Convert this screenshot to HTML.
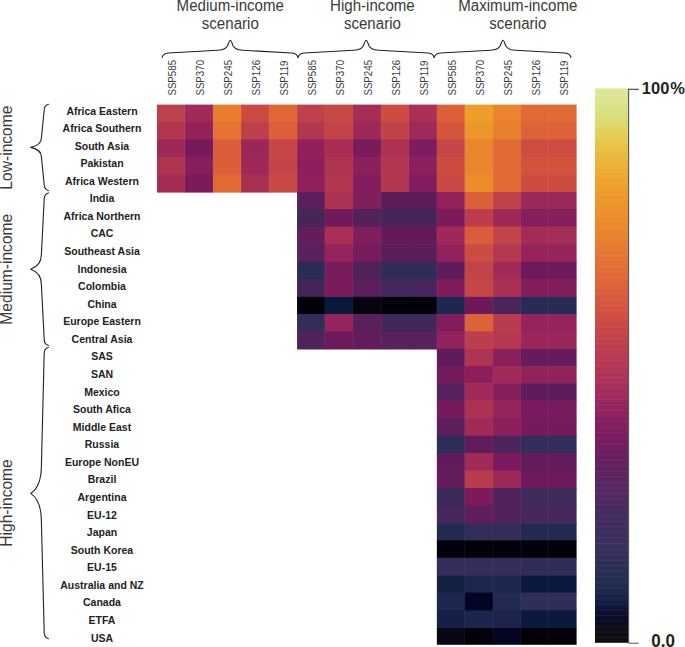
<!DOCTYPE html>
<html><head><meta charset="utf-8"><style>
html,body{margin:0;padding:0;background:#fff;}
svg{display:block;}
text{font-family:"Liberation Sans",sans-serif;}
</style></head><body>
<svg width="685" height="647" viewBox="0 0 685 647">
<defs><linearGradient id="cb" x1="0" y1="0" x2="0" y2="1">
<stop offset="0.0000" stop-color="#E0E69B"/>
<stop offset="0.0209" stop-color="#DEE491"/>
<stop offset="0.0354" stop-color="#D8E184"/>
<stop offset="0.0498" stop-color="#D7DE7C"/>
<stop offset="0.0660" stop-color="#DED769"/>
<stop offset="0.0841" stop-color="#E4CD55"/>
<stop offset="0.1021" stop-color="#E7C346"/>
<stop offset="0.1291" stop-color="#EBB63A"/>
<stop offset="0.1652" stop-color="#EEA530"/>
<stop offset="0.2013" stop-color="#EE962A"/>
<stop offset="0.2374" stop-color="#EC8C2A"/>
<stop offset="0.2734" stop-color="#E8802E"/>
<stop offset="0.2915" stop-color="#E67832"/>
<stop offset="0.3276" stop-color="#E16C37"/>
<stop offset="0.3636" stop-color="#DA5F3C"/>
<stop offset="0.3997" stop-color="#D25241"/>
<stop offset="0.4358" stop-color="#C84646"/>
<stop offset="0.4628" stop-color="#BE3E4E"/>
<stop offset="0.4899" stop-color="#B63854"/>
<stop offset="0.5260" stop-color="#AC325A"/>
<stop offset="0.5620" stop-color="#9B285F"/>
<stop offset="0.5981" stop-color="#871E5F"/>
<stop offset="0.6342" stop-color="#761C5F"/>
<stop offset="0.6703" stop-color="#641E5F"/>
<stop offset="0.6883" stop-color="#5F225F"/>
<stop offset="0.7244" stop-color="#552862"/>
<stop offset="0.7605" stop-color="#462A5F"/>
<stop offset="0.7965" stop-color="#3E2D5F"/>
<stop offset="0.8326" stop-color="#37305C"/>
<stop offset="0.8687" stop-color="#282D55"/>
<stop offset="0.8867" stop-color="#232D50"/>
<stop offset="0.9048" stop-color="#1C284B"/>
<stop offset="0.9228" stop-color="#141E46"/>
<stop offset="0.9408" stop-color="#0C1237"/>
<stop offset="0.9589" stop-color="#080A23"/>
<stop offset="0.9769" stop-color="#0F0F14"/>
<stop offset="1.0000" stop-color="#0C0C0E"/>
</linearGradient></defs>
<rect width="685" height="647" fill="#fff"/>
<g>
<rect x="157.00" y="104.60" width="28.60" height="17.90" fill="#BE424B"/>
<rect x="185.00" y="104.60" width="28.70" height="17.90" fill="#A02A58"/>
<rect x="213.10" y="104.60" width="28.50" height="17.90" fill="#E87D30"/>
<rect x="241.00" y="104.60" width="28.65" height="17.90" fill="#CC4A42"/>
<rect x="269.05" y="104.60" width="28.60" height="17.90" fill="#E06837"/>
<rect x="297.05" y="104.60" width="28.35" height="17.90" fill="#BE414C"/>
<rect x="324.80" y="104.60" width="28.65" height="17.90" fill="#C84844"/>
<rect x="352.85" y="104.60" width="28.75" height="17.90" fill="#A82D55"/>
<rect x="381.00" y="104.60" width="28.50" height="17.90" fill="#CD4B41"/>
<rect x="408.90" y="104.60" width="28.55" height="17.90" fill="#AA3055"/>
<rect x="436.85" y="104.60" width="28.45" height="17.90" fill="#DC5F3A"/>
<rect x="464.70" y="104.60" width="28.86" height="17.90" fill="#ED9E28"/>
<rect x="492.96" y="104.60" width="28.39" height="17.90" fill="#EA842D"/>
<rect x="520.75" y="104.60" width="27.85" height="17.90" fill="#E16937"/>
<rect x="548.00" y="104.60" width="28.60" height="17.90" fill="#E16B34"/>
<rect x="157.00" y="121.90" width="28.60" height="18.10" fill="#B2374E"/>
<rect x="185.00" y="121.90" width="28.70" height="18.10" fill="#94225A"/>
<rect x="213.10" y="121.90" width="28.50" height="18.10" fill="#E67332"/>
<rect x="241.00" y="121.90" width="28.65" height="18.10" fill="#BE404A"/>
<rect x="269.05" y="121.90" width="28.60" height="18.10" fill="#DC5F3A"/>
<rect x="297.05" y="121.90" width="28.35" height="18.10" fill="#B23750"/>
<rect x="324.80" y="121.90" width="28.65" height="18.10" fill="#C34448"/>
<rect x="352.85" y="121.90" width="28.75" height="18.10" fill="#9E285A"/>
<rect x="381.00" y="121.90" width="28.50" height="18.10" fill="#C0424A"/>
<rect x="408.90" y="121.90" width="28.55" height="18.10" fill="#9E2A5A"/>
<rect x="436.85" y="121.90" width="28.45" height="18.10" fill="#D4553C"/>
<rect x="464.70" y="121.90" width="28.86" height="18.10" fill="#ED9628"/>
<rect x="492.96" y="121.90" width="28.39" height="18.10" fill="#E8802E"/>
<rect x="520.75" y="121.90" width="27.85" height="18.10" fill="#DC6238"/>
<rect x="548.00" y="121.90" width="28.60" height="18.10" fill="#DE6238"/>
<rect x="157.00" y="139.40" width="28.60" height="18.10" fill="#9E2858"/>
<rect x="185.00" y="139.40" width="28.70" height="18.10" fill="#761A5C"/>
<rect x="213.10" y="139.40" width="28.50" height="18.10" fill="#DA5E3A"/>
<rect x="241.00" y="139.40" width="28.65" height="18.10" fill="#9B265A"/>
<rect x="269.05" y="139.40" width="28.60" height="18.10" fill="#C64646"/>
<rect x="297.05" y="139.40" width="28.35" height="18.10" fill="#91205C"/>
<rect x="324.80" y="139.40" width="28.65" height="18.10" fill="#AA2E54"/>
<rect x="352.85" y="139.40" width="28.75" height="18.10" fill="#7A1C5C"/>
<rect x="381.00" y="139.40" width="28.50" height="18.10" fill="#AF3252"/>
<rect x="408.90" y="139.40" width="28.55" height="18.10" fill="#7D1C5F"/>
<rect x="436.85" y="139.40" width="28.45" height="18.10" fill="#C44648"/>
<rect x="464.70" y="139.40" width="28.86" height="18.10" fill="#EA842D"/>
<rect x="492.96" y="139.40" width="28.39" height="18.10" fill="#E16B34"/>
<rect x="520.75" y="139.40" width="27.85" height="18.10" fill="#CE4C40"/>
<rect x="548.00" y="139.40" width="28.60" height="18.10" fill="#CE4C40"/>
<rect x="157.00" y="156.90" width="28.60" height="18.20" fill="#AF3450"/>
<rect x="185.00" y="156.90" width="28.70" height="18.20" fill="#871E5C"/>
<rect x="213.10" y="156.90" width="28.50" height="18.20" fill="#DA5E38"/>
<rect x="241.00" y="156.90" width="28.65" height="18.20" fill="#A02858"/>
<rect x="269.05" y="156.90" width="28.60" height="18.20" fill="#C34446"/>
<rect x="297.05" y="156.90" width="28.35" height="18.20" fill="#8E1E5C"/>
<rect x="324.80" y="156.90" width="28.65" height="18.20" fill="#AF3450"/>
<rect x="352.85" y="156.90" width="28.75" height="18.20" fill="#8A205C"/>
<rect x="381.00" y="156.90" width="28.50" height="18.20" fill="#B23650"/>
<rect x="408.90" y="156.90" width="28.55" height="18.20" fill="#8C205F"/>
<rect x="436.85" y="156.90" width="28.45" height="18.20" fill="#CD4C41"/>
<rect x="464.70" y="156.90" width="28.86" height="18.20" fill="#EA842D"/>
<rect x="492.96" y="156.90" width="28.39" height="18.20" fill="#E16B34"/>
<rect x="520.75" y="156.90" width="27.85" height="18.20" fill="#D2523E"/>
<rect x="548.00" y="156.90" width="28.60" height="18.20" fill="#D2523E"/>
<rect x="157.00" y="174.50" width="28.60" height="18.10" fill="#A52C55"/>
<rect x="185.00" y="174.50" width="28.70" height="18.10" fill="#7D1A5C"/>
<rect x="213.10" y="174.50" width="28.50" height="18.10" fill="#E16934"/>
<rect x="241.00" y="174.50" width="28.65" height="18.10" fill="#AA3052"/>
<rect x="269.05" y="174.50" width="28.60" height="18.10" fill="#C84844"/>
<rect x="297.05" y="174.50" width="28.35" height="18.10" fill="#91205C"/>
<rect x="324.80" y="174.50" width="28.65" height="18.10" fill="#B23750"/>
<rect x="352.85" y="174.50" width="28.75" height="18.10" fill="#821C5F"/>
<rect x="381.00" y="174.50" width="28.50" height="18.10" fill="#B23650"/>
<rect x="408.90" y="174.50" width="28.55" height="18.10" fill="#821C5F"/>
<rect x="436.85" y="174.50" width="28.45" height="18.10" fill="#C84844"/>
<rect x="464.70" y="174.50" width="28.86" height="18.10" fill="#ED8C2A"/>
<rect x="492.96" y="174.50" width="28.39" height="18.10" fill="#E16B34"/>
<rect x="520.75" y="174.50" width="27.85" height="18.10" fill="#CD4C40"/>
<rect x="548.00" y="174.50" width="28.60" height="18.10" fill="#CD4C40"/>
<rect x="297.05" y="192.00" width="28.35" height="17.60" fill="#5C1E5C"/>
<rect x="324.80" y="192.00" width="28.65" height="17.60" fill="#AC3252"/>
<rect x="352.85" y="192.00" width="28.75" height="17.60" fill="#821E5C"/>
<rect x="381.00" y="192.00" width="28.50" height="17.60" fill="#5C1C5A"/>
<rect x="408.90" y="192.00" width="28.55" height="17.60" fill="#5C1C5A"/>
<rect x="436.85" y="192.00" width="28.45" height="17.60" fill="#91225C"/>
<rect x="464.70" y="192.00" width="28.86" height="17.60" fill="#DC5F3A"/>
<rect x="492.96" y="192.00" width="28.39" height="17.60" fill="#C0424A"/>
<rect x="520.75" y="192.00" width="27.85" height="17.60" fill="#9B285A"/>
<rect x="548.00" y="192.00" width="28.60" height="17.60" fill="#9B285A"/>
<rect x="297.05" y="209.00" width="28.35" height="18.20" fill="#442658"/>
<rect x="324.80" y="209.00" width="28.65" height="18.20" fill="#701A5C"/>
<rect x="352.85" y="209.00" width="28.75" height="18.20" fill="#52225A"/>
<rect x="381.00" y="209.00" width="28.50" height="18.20" fill="#44265C"/>
<rect x="408.90" y="209.00" width="28.55" height="18.20" fill="#44265C"/>
<rect x="436.85" y="209.00" width="28.45" height="18.20" fill="#7D1A5C"/>
<rect x="464.70" y="209.00" width="28.86" height="18.20" fill="#BC3E4C"/>
<rect x="492.96" y="209.00" width="28.39" height="18.20" fill="#9E2858"/>
<rect x="520.75" y="209.00" width="27.85" height="18.20" fill="#871E5C"/>
<rect x="548.00" y="209.00" width="28.60" height="18.20" fill="#871E5C"/>
<rect x="297.05" y="226.60" width="28.35" height="18.10" fill="#641C5C"/>
<rect x="324.80" y="226.60" width="28.65" height="18.10" fill="#A83054"/>
<rect x="352.85" y="226.60" width="28.75" height="18.10" fill="#801E5C"/>
<rect x="381.00" y="226.60" width="28.50" height="18.10" fill="#641A5A"/>
<rect x="408.90" y="226.60" width="28.55" height="18.10" fill="#641A5A"/>
<rect x="436.85" y="226.60" width="28.45" height="18.10" fill="#9E2858"/>
<rect x="464.70" y="226.60" width="28.86" height="18.10" fill="#DA5C3A"/>
<rect x="492.96" y="226.60" width="28.39" height="18.10" fill="#C34448"/>
<rect x="520.75" y="226.60" width="27.85" height="18.10" fill="#A22C56"/>
<rect x="548.00" y="226.60" width="28.60" height="18.10" fill="#A52E56"/>
<rect x="297.05" y="244.10" width="28.35" height="18.40" fill="#58205C"/>
<rect x="324.80" y="244.10" width="28.65" height="18.40" fill="#94245C"/>
<rect x="352.85" y="244.10" width="28.75" height="18.40" fill="#761C5C"/>
<rect x="381.00" y="244.10" width="28.50" height="18.40" fill="#5A1E5A"/>
<rect x="408.90" y="244.10" width="28.55" height="18.40" fill="#5A1E5A"/>
<rect x="436.85" y="244.10" width="28.45" height="18.40" fill="#91225C"/>
<rect x="464.70" y="244.10" width="28.86" height="18.40" fill="#CD4C41"/>
<rect x="492.96" y="244.10" width="28.39" height="18.40" fill="#B43850"/>
<rect x="520.75" y="244.10" width="27.85" height="18.40" fill="#96245C"/>
<rect x="548.00" y="244.10" width="28.60" height="18.40" fill="#96245C"/>
<rect x="297.05" y="261.90" width="28.35" height="17.70" fill="#2A2C55"/>
<rect x="324.80" y="261.90" width="28.65" height="17.70" fill="#781C5C"/>
<rect x="352.85" y="261.90" width="28.75" height="17.70" fill="#50225A"/>
<rect x="381.00" y="261.90" width="28.50" height="17.70" fill="#302E58"/>
<rect x="408.90" y="261.90" width="28.55" height="17.70" fill="#302E58"/>
<rect x="436.85" y="261.90" width="28.45" height="17.70" fill="#5F1C5C"/>
<rect x="464.70" y="261.90" width="28.86" height="17.70" fill="#C34448"/>
<rect x="492.96" y="261.90" width="28.39" height="17.70" fill="#A02A58"/>
<rect x="520.75" y="261.90" width="27.85" height="17.70" fill="#6C1A5C"/>
<rect x="548.00" y="261.90" width="28.60" height="17.70" fill="#6E1A5C"/>
<rect x="297.05" y="279.00" width="28.35" height="18.50" fill="#41265A"/>
<rect x="324.80" y="279.00" width="28.65" height="18.50" fill="#7A1C5C"/>
<rect x="352.85" y="279.00" width="28.75" height="18.50" fill="#5C1E5C"/>
<rect x="381.00" y="279.00" width="28.50" height="18.50" fill="#41285F"/>
<rect x="408.90" y="279.00" width="28.55" height="18.50" fill="#46265F"/>
<rect x="436.85" y="279.00" width="28.45" height="18.50" fill="#801C5C"/>
<rect x="464.70" y="279.00" width="28.86" height="18.50" fill="#C64646"/>
<rect x="492.96" y="279.00" width="28.39" height="18.50" fill="#AA3054"/>
<rect x="520.75" y="279.00" width="27.85" height="18.50" fill="#821E5C"/>
<rect x="548.00" y="279.00" width="28.60" height="18.50" fill="#821E5C"/>
<rect x="297.05" y="296.90" width="28.35" height="17.70" fill="#030208"/>
<rect x="324.80" y="296.90" width="28.65" height="17.70" fill="#0A183C"/>
<rect x="352.85" y="296.90" width="28.75" height="17.70" fill="#050410"/>
<rect x="381.00" y="296.90" width="28.50" height="17.70" fill="#030208"/>
<rect x="408.90" y="296.90" width="28.55" height="17.70" fill="#030208"/>
<rect x="436.85" y="296.90" width="28.45" height="17.70" fill="#1C2850"/>
<rect x="464.70" y="296.90" width="28.86" height="17.70" fill="#6C185A"/>
<rect x="492.96" y="296.90" width="28.39" height="17.70" fill="#4B245C"/>
<rect x="520.75" y="296.90" width="27.85" height="17.70" fill="#262C55"/>
<rect x="548.00" y="296.90" width="28.60" height="17.70" fill="#262C55"/>
<rect x="297.05" y="314.00" width="28.35" height="18.00" fill="#342D5A"/>
<rect x="324.80" y="314.00" width="28.65" height="18.00" fill="#94245C"/>
<rect x="352.85" y="314.00" width="28.75" height="18.00" fill="#5A205C"/>
<rect x="381.00" y="314.00" width="28.50" height="18.00" fill="#41285A"/>
<rect x="408.90" y="314.00" width="28.55" height="18.00" fill="#41285A"/>
<rect x="436.85" y="314.00" width="28.45" height="18.00" fill="#821C5C"/>
<rect x="464.70" y="314.00" width="28.86" height="18.00" fill="#DC6238"/>
<rect x="492.96" y="314.00" width="28.39" height="18.00" fill="#B93C4E"/>
<rect x="520.75" y="314.00" width="27.85" height="18.00" fill="#96245C"/>
<rect x="548.00" y="314.00" width="28.60" height="18.00" fill="#96245C"/>
<rect x="297.05" y="331.40" width="28.35" height="18.10" fill="#52225C"/>
<rect x="324.80" y="331.40" width="28.65" height="18.10" fill="#6C1A5C"/>
<rect x="352.85" y="331.40" width="28.75" height="18.10" fill="#621C5C"/>
<rect x="381.00" y="331.40" width="28.50" height="18.10" fill="#58205C"/>
<rect x="408.90" y="331.40" width="28.55" height="18.10" fill="#58205C"/>
<rect x="436.85" y="331.40" width="28.45" height="18.10" fill="#91225C"/>
<rect x="464.70" y="331.40" width="28.86" height="18.10" fill="#BC3E4C"/>
<rect x="492.96" y="331.40" width="28.39" height="18.10" fill="#B43850"/>
<rect x="520.75" y="331.40" width="27.85" height="18.10" fill="#9B265A"/>
<rect x="548.00" y="331.40" width="28.60" height="18.10" fill="#9B265A"/>
<rect x="436.85" y="348.90" width="28.45" height="17.70" fill="#5F1C5C"/>
<rect x="464.70" y="348.90" width="28.86" height="17.70" fill="#AF3452"/>
<rect x="492.96" y="348.90" width="28.39" height="17.70" fill="#8C205C"/>
<rect x="520.75" y="348.90" width="27.85" height="17.70" fill="#641C5C"/>
<rect x="548.00" y="348.90" width="28.60" height="17.70" fill="#641C5C"/>
<rect x="436.85" y="366.00" width="28.45" height="17.80" fill="#731A5C"/>
<rect x="464.70" y="366.00" width="28.86" height="17.80" fill="#8C1E5C"/>
<rect x="492.96" y="366.00" width="28.39" height="17.80" fill="#A02A58"/>
<rect x="520.75" y="366.00" width="27.85" height="17.80" fill="#91225C"/>
<rect x="548.00" y="366.00" width="28.60" height="17.80" fill="#91225C"/>
<rect x="436.85" y="383.20" width="28.45" height="17.90" fill="#58205C"/>
<rect x="464.70" y="383.20" width="28.86" height="17.90" fill="#A22A58"/>
<rect x="492.96" y="383.20" width="28.39" height="17.90" fill="#871E5C"/>
<rect x="520.75" y="383.20" width="27.85" height="17.90" fill="#5F1C5C"/>
<rect x="548.00" y="383.20" width="28.60" height="17.90" fill="#5F1C5C"/>
<rect x="436.85" y="400.50" width="28.45" height="18.10" fill="#761A5C"/>
<rect x="464.70" y="400.50" width="28.86" height="18.10" fill="#AC3252"/>
<rect x="492.96" y="400.50" width="28.39" height="18.10" fill="#96245C"/>
<rect x="520.75" y="400.50" width="27.85" height="18.10" fill="#781A5C"/>
<rect x="548.00" y="400.50" width="28.60" height="18.10" fill="#781A5C"/>
<rect x="436.85" y="418.00" width="28.45" height="18.30" fill="#5C1E5C"/>
<rect x="464.70" y="418.00" width="28.86" height="18.30" fill="#A02A58"/>
<rect x="492.96" y="418.00" width="28.39" height="18.30" fill="#8C205C"/>
<rect x="520.75" y="418.00" width="27.85" height="18.30" fill="#761A5C"/>
<rect x="548.00" y="418.00" width="28.60" height="18.30" fill="#761A5C"/>
<rect x="436.85" y="435.70" width="28.45" height="17.90" fill="#2D2D58"/>
<rect x="464.70" y="435.70" width="28.86" height="17.90" fill="#621C5C"/>
<rect x="492.96" y="435.70" width="28.39" height="17.90" fill="#4B245C"/>
<rect x="520.75" y="435.70" width="27.85" height="17.90" fill="#322D5C"/>
<rect x="548.00" y="435.70" width="28.60" height="17.90" fill="#322D5C"/>
<rect x="436.85" y="453.00" width="28.45" height="18.10" fill="#5F1C5C"/>
<rect x="464.70" y="453.00" width="28.86" height="18.10" fill="#A02A58"/>
<rect x="492.96" y="453.00" width="28.39" height="18.10" fill="#7A1A5C"/>
<rect x="520.75" y="453.00" width="27.85" height="18.10" fill="#621C5C"/>
<rect x="548.00" y="453.00" width="28.60" height="18.10" fill="#621C5C"/>
<rect x="436.85" y="470.50" width="28.45" height="18.10" fill="#641C5C"/>
<rect x="464.70" y="470.50" width="28.86" height="18.10" fill="#B93C4E"/>
<rect x="492.96" y="470.50" width="28.39" height="18.10" fill="#9E2858"/>
<rect x="520.75" y="470.50" width="27.85" height="18.10" fill="#6C1A5C"/>
<rect x="548.00" y="470.50" width="28.60" height="18.10" fill="#6C1A5C"/>
<rect x="436.85" y="488.00" width="28.45" height="18.20" fill="#3A2A5A"/>
<rect x="464.70" y="488.00" width="28.86" height="18.20" fill="#7D1A5C"/>
<rect x="492.96" y="488.00" width="28.39" height="18.20" fill="#52225C"/>
<rect x="520.75" y="488.00" width="27.85" height="18.20" fill="#3E2A5C"/>
<rect x="548.00" y="488.00" width="28.60" height="18.20" fill="#3E2A5C"/>
<rect x="436.85" y="505.60" width="28.45" height="18.50" fill="#46265C"/>
<rect x="464.70" y="505.60" width="28.86" height="18.50" fill="#5F1E5C"/>
<rect x="492.96" y="505.60" width="28.39" height="18.50" fill="#52225C"/>
<rect x="520.75" y="505.60" width="27.85" height="18.50" fill="#46285C"/>
<rect x="548.00" y="505.60" width="28.60" height="18.50" fill="#46285C"/>
<rect x="436.85" y="523.50" width="28.45" height="17.50" fill="#232A50"/>
<rect x="464.70" y="523.50" width="28.86" height="17.50" fill="#322D5A"/>
<rect x="492.96" y="523.50" width="28.39" height="17.50" fill="#322D5A"/>
<rect x="520.75" y="523.50" width="27.85" height="17.50" fill="#232A52"/>
<rect x="548.00" y="523.50" width="28.60" height="17.50" fill="#232A52"/>
<rect x="436.85" y="540.40" width="28.45" height="18.00" fill="#030208"/>
<rect x="464.70" y="540.40" width="28.86" height="18.00" fill="#030208"/>
<rect x="492.96" y="540.40" width="28.39" height="18.00" fill="#030208"/>
<rect x="520.75" y="540.40" width="27.85" height="18.00" fill="#030208"/>
<rect x="548.00" y="540.40" width="28.60" height="18.00" fill="#030208"/>
<rect x="436.85" y="557.80" width="28.45" height="18.40" fill="#372D5A"/>
<rect x="464.70" y="557.80" width="28.86" height="18.40" fill="#372D5A"/>
<rect x="492.96" y="557.80" width="28.39" height="18.40" fill="#372D5A"/>
<rect x="520.75" y="557.80" width="27.85" height="18.40" fill="#302D58"/>
<rect x="548.00" y="557.80" width="28.60" height="18.40" fill="#302D58"/>
<rect x="436.85" y="575.60" width="28.45" height="17.60" fill="#122044"/>
<rect x="464.70" y="575.60" width="28.86" height="17.60" fill="#1C264E"/>
<rect x="492.96" y="575.60" width="28.39" height="17.60" fill="#1C264E"/>
<rect x="520.75" y="575.60" width="27.85" height="17.60" fill="#0A1A3E"/>
<rect x="548.00" y="575.60" width="28.60" height="17.60" fill="#0A1A3E"/>
<rect x="436.85" y="592.60" width="28.45" height="18.40" fill="#1C264E"/>
<rect x="464.70" y="592.60" width="28.86" height="18.40" fill="#050424"/>
<rect x="492.96" y="592.60" width="28.39" height="18.40" fill="#232A52"/>
<rect x="520.75" y="592.60" width="27.85" height="18.40" fill="#302D58"/>
<rect x="548.00" y="592.60" width="28.60" height="18.40" fill="#302D58"/>
<rect x="436.85" y="610.40" width="28.45" height="18.20" fill="#142046"/>
<rect x="464.70" y="610.40" width="28.86" height="18.20" fill="#1A264C"/>
<rect x="492.96" y="610.40" width="28.39" height="18.20" fill="#1C244C"/>
<rect x="520.75" y="610.40" width="27.85" height="18.20" fill="#0A1A3E"/>
<rect x="548.00" y="610.40" width="28.60" height="18.20" fill="#0A1A3E"/>
<rect x="436.85" y="628.00" width="28.45" height="16.80" fill="#080814"/>
<rect x="464.70" y="628.00" width="28.86" height="16.80" fill="#030208"/>
<rect x="492.96" y="628.00" width="28.39" height="16.80" fill="#020623"/>
<rect x="520.75" y="628.00" width="27.85" height="16.80" fill="#030208"/>
<rect x="548.00" y="628.00" width="28.60" height="16.80" fill="#030208"/>
<rect x="184.50" y="104.60" width="1" height="87.40" fill="#fff" opacity="0.06"/>
<rect x="212.60" y="104.60" width="1" height="87.40" fill="#fff" opacity="0.06"/>
<rect x="240.50" y="104.60" width="1" height="87.40" fill="#fff" opacity="0.06"/>
<rect x="268.55" y="104.60" width="1" height="87.40" fill="#fff" opacity="0.06"/>
<rect x="296.55" y="104.60" width="1" height="87.40" fill="#fff" opacity="0.06"/>
<rect x="324.30" y="104.60" width="1" height="244.30" fill="#fff" opacity="0.06"/>
<rect x="352.35" y="104.60" width="1" height="244.30" fill="#fff" opacity="0.06"/>
<rect x="380.50" y="104.60" width="1" height="244.30" fill="#fff" opacity="0.06"/>
<rect x="408.40" y="104.60" width="1" height="87.40" fill="#fff" opacity="0.06"/>
<rect x="436.35" y="104.60" width="1" height="244.30" fill="#fff" opacity="0.06"/>
<rect x="464.20" y="104.60" width="1" height="540.20" fill="#fff" opacity="0.06"/>
<rect x="492.46" y="104.60" width="1" height="540.20" fill="#fff" opacity="0.06"/>
<rect x="520.25" y="104.60" width="1" height="540.20" fill="#fff" opacity="0.06"/>
<rect x="547.50" y="104.60" width="1" height="540.20" fill="#fff" opacity="0.06"/>
</g>
<g font-size="10.5" font-weight="bold" fill="#222" text-anchor="middle">
<text x="102" y="114.50">Africa Eastern</text>
<text x="102" y="132.07">Africa Southern</text>
<text x="102" y="149.64">South Asia</text>
<text x="102" y="167.21">Pakistan</text>
<text x="102" y="184.78">Africa Western</text>
<text x="102" y="202.35">India</text>
<text x="102" y="219.92">Africa Northern</text>
<text x="102" y="237.49">CAC</text>
<text x="102" y="255.06">Southeast Asia</text>
<text x="102" y="272.63">Indonesia</text>
<text x="102" y="290.20">Colombia</text>
<text x="102" y="307.77">China</text>
<text x="102" y="325.34">Europe Eastern</text>
<text x="102" y="342.91">Central Asia</text>
<text x="102" y="360.48">SAS</text>
<text x="102" y="378.05">SAN</text>
<text x="102" y="395.62">Mexico</text>
<text x="102" y="413.19">South Afica</text>
<text x="102" y="430.76">Middle East</text>
<text x="102" y="448.33">Russia</text>
<text x="102" y="465.90">Europe NonEU</text>
<text x="102" y="483.47">Brazil</text>
<text x="102" y="501.04">Argentina</text>
<text x="102" y="518.61">EU-12</text>
<text x="102" y="536.18">Japan</text>
<text x="102" y="553.75">South Korea</text>
<text x="102" y="571.32">EU-15</text>
<text x="102" y="588.89">Australia and NZ</text>
<text x="102" y="606.46">Canada</text>
<text x="102" y="624.03">ETFA</text>
<text x="102" y="641.60">USA</text>
</g>
<g font-size="10.8" fill="#3c3c3c">
<text transform="translate(176.38,95.6) rotate(-90) scale(0.9,1)">SSP585</text>
<text transform="translate(204.35,95.6) rotate(-90) scale(0.9,1)">SSP370</text>
<text transform="translate(232.32,95.6) rotate(-90) scale(0.9,1)">SSP245</text>
<text transform="translate(260.28,95.6) rotate(-90) scale(0.9,1)">SSP126</text>
<text transform="translate(288.25,95.6) rotate(-90) scale(0.9,1)">SSP119</text>
<text transform="translate(316.22,95.6) rotate(-90) scale(0.9,1)">SSP585</text>
<text transform="translate(344.19,95.6) rotate(-90) scale(0.9,1)">SSP370</text>
<text transform="translate(372.15,95.6) rotate(-90) scale(0.9,1)">SSP245</text>
<text transform="translate(400.12,95.6) rotate(-90) scale(0.9,1)">SSP126</text>
<text transform="translate(428.09,95.6) rotate(-90) scale(0.9,1)">SSP119</text>
<text transform="translate(456.05,95.6) rotate(-90) scale(0.9,1)">SSP585</text>
<text transform="translate(484.02,95.6) rotate(-90) scale(0.9,1)">SSP370</text>
<text transform="translate(511.99,95.6) rotate(-90) scale(0.9,1)">SSP245</text>
<text transform="translate(539.95,95.6) rotate(-90) scale(0.9,1)">SSP126</text>
<text transform="translate(567.92,95.6) rotate(-90) scale(0.9,1)">SSP119</text>
</g>
<g font-size="15.1" fill="#3a3a3a" text-anchor="middle">
<text transform="translate(230.3,11.1) scale(1,1.045)">Medium-income</text><text transform="translate(230.3,29.0) scale(1,1.045)">scenario</text>
<text transform="translate(372.4,11.1) scale(1,1.045)">High-income</text><text transform="translate(372.4,29.0) scale(1,1.045)">scenario</text>
<text transform="translate(517.8,11.1) scale(1,1.045)">Maximum-income</text><text transform="translate(517.8,29.0) scale(1,1.045)">scenario</text>
</g>
<g font-size="15.6" fill="#3a3a3a" text-anchor="middle">
<text transform="translate(11.8,147.6) rotate(-90)">Low-income</text>
<text transform="translate(11.8,269.2) rotate(-90)">Medium-income</text>
<text transform="translate(11.8,503) rotate(-90)">High-income</text>
</g>
<g fill="none" stroke="#222" stroke-width="1.1" stroke-linejoin="round" stroke-linecap="round">
<path d="M162.1,57.4 C162.7,54.9 164.6,53.3 168.1,53.0 L218.00,50.3 C223.30,50.00 226.00,48.70 227.40,46.10 C228.40,44.00 229.10,40.3 230.3,40.3 C231.50,40.3 232.20,44.00 233.20,46.10 C234.60,48.70 237.30,50.00 242.60,50.3 L292,53.0 C295.5,53.3 297.4,54.9 298,57.4"/>
<path d="M298,57.4 C298.6,54.9 300.5,53.3 304,53.0 L353.90,50.3 C359.20,50.00 361.90,48.70 363.30,46.10 C364.30,44.00 365.00,40.3 366.2,40.3 C367.40,40.3 368.10,44.00 369.10,46.10 C370.50,48.70 373.20,50.00 378.50,50.3 L428.2,53.0 C431.7,53.3 433.59999999999997,54.9 434.2,57.4"/>
<path d="M434.2,57.4 C434.8,54.9 436.7,53.3 440.2,53.0 L490.70,50.3 C496.00,50.00 498.70,48.70 500.10,46.10 C501.10,44.00 501.80,40.3 503,40.3 C504.20,40.3 504.90,44.00 505.90,46.10 C507.30,48.70 510.00,50.00 515.30,50.3 L565,53.0 C568.5,53.3 570.4,54.9 571,57.4"/>
<path d="M48.4,104.3 C45.9,105.1 44.2,106.8 44.2,110.3 L41.4,137.9 C41.40,141.70 39.05,145.50 30.7,147.4 C39.05,149.30 41.40,153.10 41.4,156.9 L44.2,184.6 C44.2,188.1 45.9,189.79999999999998 48.4,190.6"/>
<path d="M48.4,192.9 C45.9,193.70000000000002 44.2,195.4 44.2,198.9 L41.4,254.2 C41.40,260.20 39.05,266.20 30.7,269.2 C39.05,272.20 41.40,278.20 41.4,284.2 L44.2,339.6 C44.2,343.1 45.9,344.8 48.4,345.6"/>
<path d="M48.4,347.2 C45.9,348.0 44.2,349.7 44.2,353.2 L41.4,465.4 C41.40,476.60 39.05,487.80 30.7,493.4 C39.05,499.00 41.40,510.20 41.4,521.4 L44.2,632.8 C44.2,636.3 45.9,638.0 48.4,638.8"/>
</g>
<rect x="595" y="88.4" width="33.2" height="554.4" fill="url(#cb)"/>
<rect x="595" y="93.94" width="33.2" height="1" fill="#fff" opacity="0.06"/>
<rect x="595" y="99.49" width="33.2" height="1" fill="#fff" opacity="0.06"/>
<rect x="595" y="105.03" width="33.2" height="1" fill="#fff" opacity="0.06"/>
<rect x="595" y="110.58" width="33.2" height="1" fill="#fff" opacity="0.06"/>
<rect x="595" y="116.12" width="33.2" height="1" fill="#fff" opacity="0.06"/>
<rect x="595" y="121.66" width="33.2" height="1" fill="#fff" opacity="0.06"/>
<rect x="595" y="127.21" width="33.2" height="1" fill="#fff" opacity="0.06"/>
<rect x="595" y="132.75" width="33.2" height="1" fill="#fff" opacity="0.06"/>
<rect x="595" y="138.30" width="33.2" height="1" fill="#fff" opacity="0.06"/>
<rect x="595" y="143.84" width="33.2" height="1" fill="#fff" opacity="0.06"/>
<rect x="595" y="149.38" width="33.2" height="1" fill="#fff" opacity="0.06"/>
<rect x="595" y="154.93" width="33.2" height="1" fill="#fff" opacity="0.06"/>
<rect x="595" y="160.47" width="33.2" height="1" fill="#fff" opacity="0.06"/>
<rect x="595" y="166.02" width="33.2" height="1" fill="#fff" opacity="0.06"/>
<rect x="595" y="171.56" width="33.2" height="1" fill="#fff" opacity="0.06"/>
<rect x="595" y="177.10" width="33.2" height="1" fill="#fff" opacity="0.06"/>
<rect x="595" y="182.65" width="33.2" height="1" fill="#fff" opacity="0.06"/>
<rect x="595" y="188.19" width="33.2" height="1" fill="#fff" opacity="0.06"/>
<rect x="595" y="193.74" width="33.2" height="1" fill="#fff" opacity="0.06"/>
<rect x="595" y="199.28" width="33.2" height="1" fill="#fff" opacity="0.06"/>
<rect x="595" y="204.82" width="33.2" height="1" fill="#fff" opacity="0.06"/>
<rect x="595" y="210.37" width="33.2" height="1" fill="#fff" opacity="0.06"/>
<rect x="595" y="215.91" width="33.2" height="1" fill="#fff" opacity="0.06"/>
<rect x="595" y="221.46" width="33.2" height="1" fill="#fff" opacity="0.06"/>
<rect x="595" y="227.00" width="33.2" height="1" fill="#fff" opacity="0.06"/>
<rect x="595" y="232.54" width="33.2" height="1" fill="#fff" opacity="0.06"/>
<rect x="595" y="238.09" width="33.2" height="1" fill="#fff" opacity="0.06"/>
<rect x="595" y="243.63" width="33.2" height="1" fill="#fff" opacity="0.06"/>
<rect x="595" y="249.18" width="33.2" height="1" fill="#fff" opacity="0.06"/>
<rect x="595" y="254.72" width="33.2" height="1" fill="#fff" opacity="0.06"/>
<rect x="595" y="260.26" width="33.2" height="1" fill="#fff" opacity="0.06"/>
<rect x="595" y="265.81" width="33.2" height="1" fill="#fff" opacity="0.06"/>
<rect x="595" y="271.35" width="33.2" height="1" fill="#fff" opacity="0.06"/>
<rect x="595" y="276.90" width="33.2" height="1" fill="#fff" opacity="0.06"/>
<rect x="595" y="282.44" width="33.2" height="1" fill="#fff" opacity="0.06"/>
<rect x="595" y="287.98" width="33.2" height="1" fill="#fff" opacity="0.06"/>
<rect x="595" y="293.53" width="33.2" height="1" fill="#fff" opacity="0.06"/>
<rect x="595" y="299.07" width="33.2" height="1" fill="#fff" opacity="0.06"/>
<rect x="595" y="304.62" width="33.2" height="1" fill="#fff" opacity="0.06"/>
<rect x="595" y="310.16" width="33.2" height="1" fill="#fff" opacity="0.06"/>
<rect x="595" y="315.70" width="33.2" height="1" fill="#fff" opacity="0.06"/>
<rect x="595" y="321.25" width="33.2" height="1" fill="#fff" opacity="0.06"/>
<rect x="595" y="326.79" width="33.2" height="1" fill="#fff" opacity="0.06"/>
<rect x="595" y="332.34" width="33.2" height="1" fill="#fff" opacity="0.06"/>
<rect x="595" y="337.88" width="33.2" height="1" fill="#fff" opacity="0.06"/>
<rect x="595" y="343.42" width="33.2" height="1" fill="#fff" opacity="0.06"/>
<rect x="595" y="348.97" width="33.2" height="1" fill="#fff" opacity="0.06"/>
<rect x="595" y="354.51" width="33.2" height="1" fill="#fff" opacity="0.06"/>
<rect x="595" y="360.06" width="33.2" height="1" fill="#fff" opacity="0.06"/>
<rect x="595" y="365.60" width="33.2" height="1" fill="#fff" opacity="0.06"/>
<rect x="595" y="371.14" width="33.2" height="1" fill="#fff" opacity="0.06"/>
<rect x="595" y="376.69" width="33.2" height="1" fill="#fff" opacity="0.06"/>
<rect x="595" y="382.23" width="33.2" height="1" fill="#fff" opacity="0.06"/>
<rect x="595" y="387.78" width="33.2" height="1" fill="#fff" opacity="0.06"/>
<rect x="595" y="393.32" width="33.2" height="1" fill="#fff" opacity="0.06"/>
<rect x="595" y="398.86" width="33.2" height="1" fill="#fff" opacity="0.06"/>
<rect x="595" y="404.41" width="33.2" height="1" fill="#fff" opacity="0.06"/>
<rect x="595" y="409.95" width="33.2" height="1" fill="#fff" opacity="0.06"/>
<rect x="595" y="415.50" width="33.2" height="1" fill="#fff" opacity="0.06"/>
<rect x="595" y="421.04" width="33.2" height="1" fill="#fff" opacity="0.06"/>
<rect x="595" y="426.58" width="33.2" height="1" fill="#fff" opacity="0.06"/>
<rect x="595" y="432.13" width="33.2" height="1" fill="#fff" opacity="0.06"/>
<rect x="595" y="437.67" width="33.2" height="1" fill="#fff" opacity="0.06"/>
<rect x="595" y="443.22" width="33.2" height="1" fill="#fff" opacity="0.06"/>
<rect x="595" y="448.76" width="33.2" height="1" fill="#fff" opacity="0.06"/>
<rect x="595" y="454.30" width="33.2" height="1" fill="#fff" opacity="0.06"/>
<rect x="595" y="459.85" width="33.2" height="1" fill="#fff" opacity="0.06"/>
<rect x="595" y="465.39" width="33.2" height="1" fill="#fff" opacity="0.06"/>
<rect x="595" y="470.94" width="33.2" height="1" fill="#fff" opacity="0.06"/>
<rect x="595" y="476.48" width="33.2" height="1" fill="#fff" opacity="0.06"/>
<rect x="595" y="482.02" width="33.2" height="1" fill="#fff" opacity="0.06"/>
<rect x="595" y="487.57" width="33.2" height="1" fill="#fff" opacity="0.06"/>
<rect x="595" y="493.11" width="33.2" height="1" fill="#fff" opacity="0.06"/>
<rect x="595" y="498.66" width="33.2" height="1" fill="#fff" opacity="0.06"/>
<rect x="595" y="504.20" width="33.2" height="1" fill="#fff" opacity="0.06"/>
<rect x="595" y="509.74" width="33.2" height="1" fill="#fff" opacity="0.06"/>
<rect x="595" y="515.29" width="33.2" height="1" fill="#fff" opacity="0.06"/>
<rect x="595" y="520.83" width="33.2" height="1" fill="#fff" opacity="0.06"/>
<rect x="595" y="526.38" width="33.2" height="1" fill="#fff" opacity="0.06"/>
<rect x="595" y="531.92" width="33.2" height="1" fill="#fff" opacity="0.06"/>
<rect x="595" y="537.46" width="33.2" height="1" fill="#fff" opacity="0.06"/>
<rect x="595" y="543.01" width="33.2" height="1" fill="#fff" opacity="0.06"/>
<rect x="595" y="548.55" width="33.2" height="1" fill="#fff" opacity="0.06"/>
<rect x="595" y="554.10" width="33.2" height="1" fill="#fff" opacity="0.06"/>
<rect x="595" y="559.64" width="33.2" height="1" fill="#fff" opacity="0.06"/>
<rect x="595" y="565.18" width="33.2" height="1" fill="#fff" opacity="0.06"/>
<rect x="595" y="570.73" width="33.2" height="1" fill="#fff" opacity="0.06"/>
<rect x="595" y="576.27" width="33.2" height="1" fill="#fff" opacity="0.06"/>
<rect x="595" y="581.82" width="33.2" height="1" fill="#fff" opacity="0.06"/>
<rect x="595" y="587.36" width="33.2" height="1" fill="#fff" opacity="0.06"/>
<rect x="595" y="592.90" width="33.2" height="1" fill="#fff" opacity="0.06"/>
<rect x="595" y="598.45" width="33.2" height="1" fill="#fff" opacity="0.06"/>
<rect x="595" y="603.99" width="33.2" height="1" fill="#fff" opacity="0.06"/>
<rect x="595" y="609.54" width="33.2" height="1" fill="#fff" opacity="0.06"/>
<rect x="595" y="615.08" width="33.2" height="1" fill="#fff" opacity="0.06"/>
<rect x="595" y="620.62" width="33.2" height="1" fill="#fff" opacity="0.06"/>
<rect x="595" y="626.17" width="33.2" height="1" fill="#fff" opacity="0.06"/>
<rect x="595" y="631.71" width="33.2" height="1" fill="#fff" opacity="0.06"/>
<rect x="595" y="637.26" width="33.2" height="1" fill="#fff" opacity="0.06"/>
<path d="M628.6,88.4 L628.6,643.2 M628.6,89.4 L638.7,89.4 M628.6,643.2 L638.7,643.2" stroke="#555" stroke-width="1.1" fill="none"/>
<g font-size="16.5" font-weight="bold" fill="#222">
<text transform="translate(641.8,94.2) scale(1,1.03)">100<tspan dx="1">%</tspan></text>
<text transform="translate(651.3,647.3) scale(1,1.03)" font-size="17">0.0</text>
</g>
</svg>
</body></html>
